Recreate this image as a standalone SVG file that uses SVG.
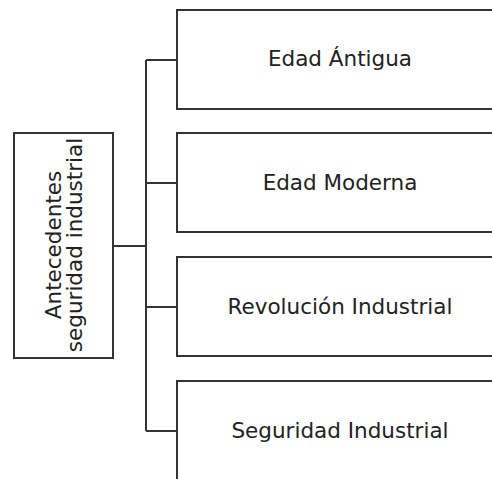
<svg xmlns="http://www.w3.org/2000/svg" width="492" height="479" viewBox="0 0 492 479">
<style>
.box{fill:#fff;stroke:#333;stroke-width:2}
.con{fill:none;stroke:#333;stroke-width:2}
text{font-family:"DejaVu Sans",Verdana,sans-serif;font-size:21.5px;fill:#222;text-anchor:middle}
</style>
<rect width="492" height="479" fill="#fff"/>
<g id="connectors">
<path class="con" d="M113 246H146M146 60V431M146 60H177M146 183H177M146 307H177M146 431H177"/>
</g>
<g id="root">
<rect class="box" x="14" y="133" width="99" height="225"/>
<text transform="translate(0 245) rotate(-90)"><tspan x="0" y="61">Antecedentes</tspan><tspan x="0" y="82">seguridad industrial</tspan></text>
</g>
<g id="n1"><rect class="box" x="177" y="10" width="330" height="99"/><text x="340" y="66">Edad Ántigua</text></g>
<g id="n2"><rect class="box" x="177" y="133" width="330" height="99"/><text x="340" y="190">Edad Moderna</text></g>
<g id="n3"><rect class="box" x="177" y="257" width="330" height="99"/><text x="340" y="314">Revolución Industrial</text></g>
<g id="n4"><rect class="box" x="177" y="381" width="330" height="110"/><text x="340" y="438">Seguridad Industrial</text></g>
</svg>
